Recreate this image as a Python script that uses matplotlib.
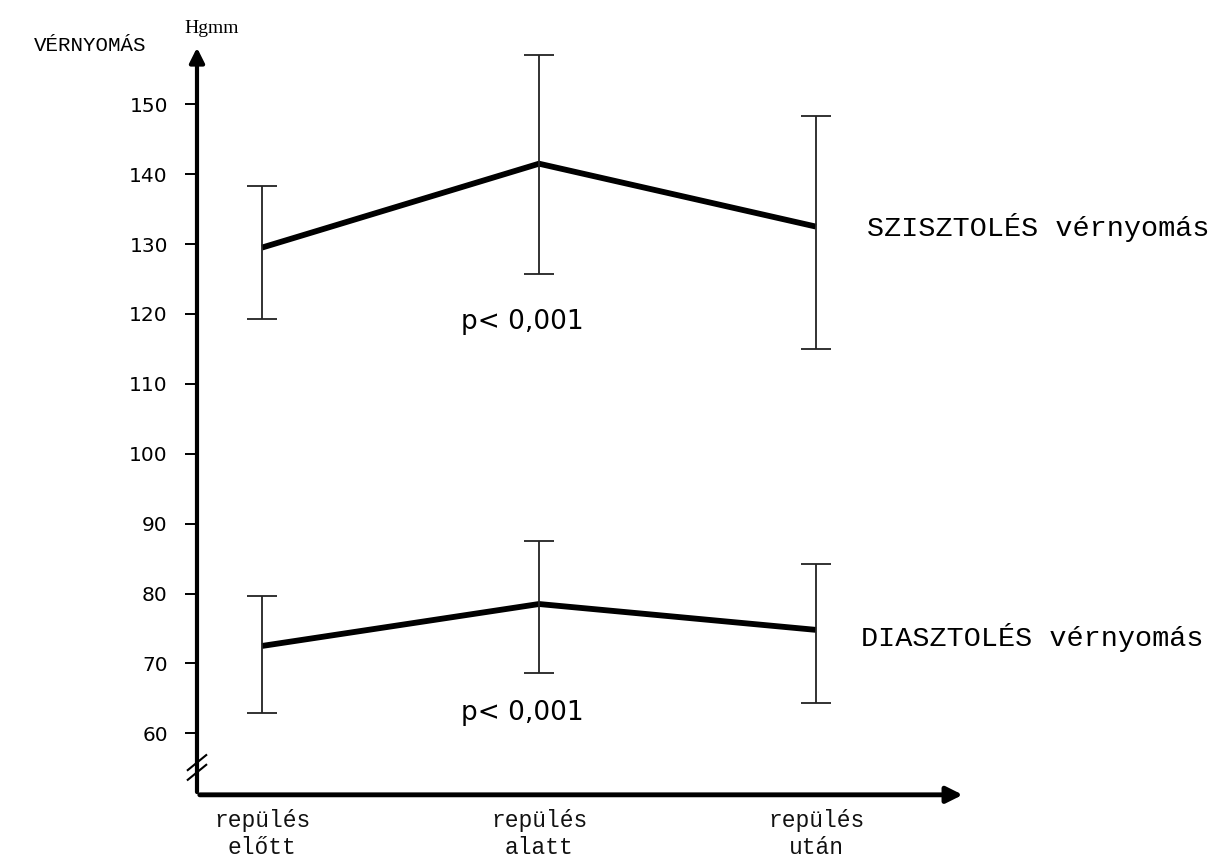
import matplotlib.pyplot as plt

# adatok
kategoriak = ['repülés\nelőtt', 'repülés\nalatt', 'repülés\nután']
sziszt_atlag = [129.5, 141.5, 132.5]
sziszt_also = [119.3, 125.7, 115.0]
sziszt_felso = [138.3, 157.1, 148.3]
diaszt_atlag = [72.5, 78.5, 74.8]
diaszt_also = [62.9, 68.7, 64.4]
diaszt_felso = [79.7, 87.5, 84.2]
y_ticks = [60, 70, 80, 90, 100, 110, 120, 130, 140, 150]

fig = plt.figure(figsize=(12.16, 8.63), dpi=100)
ax = fig.add_axes([0.162, 0.079, 0.632, 0.869])

x = list(range(len(kategoriak)))

for atlag, also, felso in [(sziszt_atlag, sziszt_also, sziszt_felso),
                           (diaszt_atlag, diaszt_also, diaszt_felso)]:
    ax.plot(x, atlag, color='black', lw=4.2, solid_capstyle='butt')
    ax.errorbar(x, atlag,
                yerr=[[a - b for a, b in zip(atlag, also)],
                      [c - a for a, c in zip(atlag, felso)]],
                fmt='none', ecolor='#222222', elinewidth=1.3, capsize=11, capthick=1.3)

ax.set_xlim(-0.235, 2.54)
ax.set_ylim(51.2, 158.5)

for s in ax.spines.values():
    s.set_visible(False)

# tengelyek nyíllal
ax.annotate('', xy=(0, 1.0), xytext=(0, 0), xycoords='axes fraction',
            arrowprops=dict(arrowstyle='-|>', lw=3, color='black', mutation_scale=22))
ax.annotate('', xy=(1.0, 0), xytext=(0, 0), xycoords='axes fraction',
            arrowprops=dict(arrowstyle='-|>', lw=3.5, color='black', mutation_scale=24))

# tengelytörés
for dy in (0.030, 0.043):
    ax.plot([-0.012, 0.012], [dy - 0.010, dy + 0.010], transform=ax.transAxes,
            color='black', lw=1.5, clip_on=False)

ax.set_yticks(y_ticks)
ax.set_yticklabels([str(v) for v in y_ticks], fontsize=14.5)
ax.tick_params(axis='y', length=9, width=1.4, pad=12, color='black')
ax.set_xticks(x)
ax.set_xticklabels(kategoriak, family='Liberation Mono', fontsize=16.5,
                   linespacing=1.25, color='#111111')
ax.tick_params(axis='x', length=0, pad=10)

fig.text(0.074, 0.947, 'VÉRNYOMÁS', family='Liberation Mono', fontsize=15,
         ha='center', va='center')
fig.text(0.152, 0.967, 'Hgmm', family='Liberation Serif', fontsize=14,
         ha='left', va='center')

fig.text(0.713, 0.736, 'SZISZTOLÉS vérnyomás', family='Liberation Mono', fontsize=20.5,
         ha='left', va='center')
fig.text(0.708, 0.261, 'DIASZTOLÉS vérnyomás', family='Liberation Mono', fontsize=20.5,
         ha='left', va='center')

ax.text(0.94, 118.8, 'p< 0,001', fontsize=19, ha='center', va='center')
ax.text(0.94, 62.9, 'p< 0,001', fontsize=19, ha='center', va='center')

fig.savefig('out.png', dpi=100)
